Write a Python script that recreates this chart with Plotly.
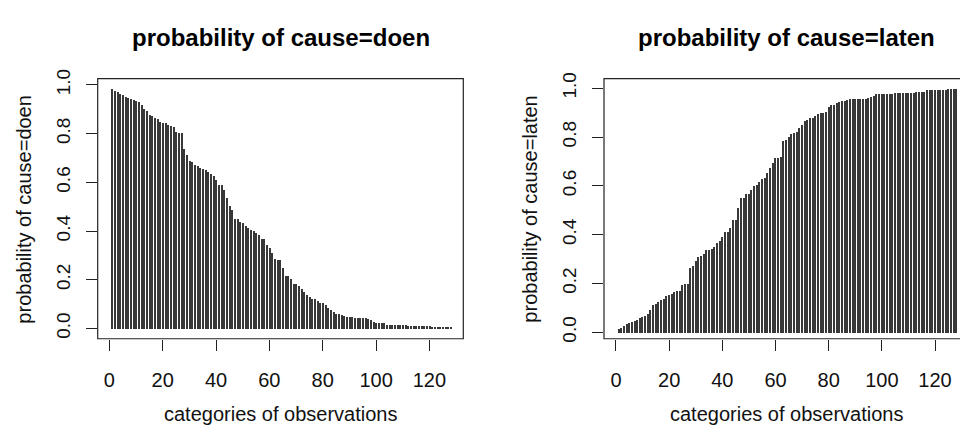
import plotly.graph_objects as go

categories = list(range(1, 129))

p_doen = [
    0.985, 0.979, 0.972, 0.966, 0.959, 0.952, 0.948, 0.944, 0.942, 0.937,
    0.931, 0.919, 0.905, 0.893, 0.880, 0.873, 0.866, 0.862, 0.851, 0.847,
    0.844, 0.839, 0.833, 0.828, 0.807, 0.804, 0.804, 0.738, 0.714, 0.690,
    0.684, 0.675, 0.668, 0.661, 0.655, 0.652, 0.646, 0.638, 0.628, 0.611,
    0.591, 0.589, 0.571, 0.538, 0.505, 0.489, 0.450, 0.450, 0.437, 0.434,
    0.423, 0.413, 0.406, 0.401, 0.393, 0.384, 0.370, 0.370, 0.344, 0.331,
    0.311, 0.289, 0.284, 0.282, 0.251, 0.218, 0.216, 0.205, 0.185, 0.183,
    0.175, 0.165, 0.152, 0.139, 0.132, 0.122, 0.122, 0.116, 0.108, 0.106,
    0.099, 0.086, 0.077, 0.069, 0.062, 0.060, 0.056, 0.053, 0.049, 0.049,
    0.048, 0.046, 0.046, 0.045, 0.045, 0.045, 0.042, 0.037, 0.030, 0.024,
    0.024, 0.024, 0.023, 0.017, 0.017, 0.017, 0.016, 0.016, 0.016, 0.016,
    0.015, 0.013, 0.010, 0.010, 0.010, 0.010, 0.010, 0.010, 0.010, 0.010,
    0.007, 0.007, 0.006, 0.006, 0.005, 0.005, 0.004, 0.004,
]

p_laten = [
    0.016, 0.020, 0.026, 0.037, 0.040, 0.045, 0.049, 0.053, 0.060, 0.064,
    0.069, 0.077, 0.093, 0.113, 0.119, 0.128, 0.135, 0.139, 0.152, 0.156,
    0.159, 0.166, 0.172, 0.172, 0.196, 0.199, 0.201, 0.265, 0.272, 0.294,
    0.311, 0.315, 0.322, 0.338, 0.340, 0.344, 0.351, 0.368, 0.377, 0.391,
    0.411, 0.413, 0.430, 0.464, 0.464, 0.513, 0.554, 0.554, 0.570, 0.570,
    0.583, 0.603, 0.607, 0.616, 0.629, 0.636, 0.656, 0.675, 0.695, 0.715,
    0.718, 0.719, 0.784, 0.788, 0.801, 0.815, 0.819, 0.824, 0.837, 0.850,
    0.868, 0.872, 0.881, 0.881, 0.887, 0.898, 0.901, 0.901, 0.903, 0.927,
    0.932, 0.935, 0.943, 0.946, 0.948, 0.951, 0.954, 0.956, 0.959, 0.959,
    0.959, 0.959, 0.959, 0.959, 0.960, 0.964, 0.972, 0.977, 0.980, 0.980,
    0.980, 0.980, 0.980, 0.980, 0.984, 0.984, 0.984, 0.984, 0.984, 0.984,
    0.984, 0.984, 0.988, 0.988, 0.988, 0.988, 0.993, 0.993, 0.993, 0.993,
    0.993, 0.993, 0.993, 0.993, 0.997, 0.997, 0.997, 0.997,
]

x_ticks = [0, 20, 40, 60, 80, 100, 120]
y_ticks = [0.0, 0.2, 0.4, 0.6, 0.8, 1.0]
y_tick_text = ["0.0", "0.2", "0.4", "0.6", "0.8", "1.0"]

titles = ["probability of cause=doen", "probability of cause=laten"]
x_title = "categories of observations"

W, H = 960, 432
FONT = "Liberation Sans, Arial, sans-serif"

# panel boxes in pixels
L1, R1 = 97.7, 463.3
L2, R2 = 604.0, 969.6
TOP, BOT = 71.7, 340.0


def px(v):
    return v / W


def py(v):
    return 1 - v / H


fig = go.Figure()
fig.add_trace(go.Bar(x=categories, y=p_doen, width=0.45,
                     marker=dict(color="#383838", line=dict(width=0)),
                     xaxis="x", yaxis="y", showlegend=False))
fig.add_trace(go.Bar(x=categories, y=p_laten, width=0.45,
                     marker=dict(color="#383838", line=dict(width=0)),
                     xaxis="x2", yaxis="y2", showlegend=False))

xcommon = dict(tickmode="array", tickvals=x_ticks, ticks="outside", ticklen=11,
               tickwidth=1, tickcolor="#222", showgrid=False, zeroline=False,
               showline=False, tickfont=dict(family=FONT, size=20, color="#111"),
               ticklabelstandoff=12, fixedrange=True)
ycommon = dict(tickmode="array", tickvals=y_ticks, ticktext=y_tick_text,
               ticks="outside", ticklen=11, tickwidth=1, tickcolor="#222",
               showgrid=False, zeroline=False, showline=False, tickangle=-90,
               tickfont=dict(family=FONT, size=19, color="#111"),
               ticklabelstandoff=8, fixedrange=True)

fig.update_layout(
    width=W, height=H,
    margin=dict(l=0, r=0, t=0, b=0),
    paper_bgcolor="white", plot_bgcolor="white",
    bargap=0,
    xaxis=dict(domain=[px(L1), px(R1)], range=[-4.35, 132.7], anchor="y", **xcommon),
    yaxis=dict(domain=[py(BOT), py(TOP)], range=[-0.0426, 1.0263], anchor="x", **ycommon),
    xaxis2=dict(domain=[px(L2), 1.0], range=[-4.51, 129.4], anchor="y2", **xcommon),
    yaxis2=dict(domain=[py(BOT), py(TOP)], range=[-0.0266, 1.0397], anchor="x2", **ycommon),
    showlegend=False,
)

# panel frames
for (l, r) in [(L1, R1), (L2, R2)]:
    fig.add_shape(type="rect", xref="paper", yref="paper",
                  x0=px(l), x1=px(r), y0=py(BOT), y1=py(TOP),
                  line=dict(color="#222", width=1.2), fillcolor="rgba(0,0,0,0)",
                  layer="above")

# titles and axis titles
for (l, r), t, ytx in [((L1, R1), titles[0], 24), ((L2, R2), titles[1], 530)]:
    cx = (l + r) / 2
    fig.add_annotation(x=px(cx), y=py(29), xref="paper", yref="paper",
                       text="<b>" + t + "</b>", showarrow=False,
                       xanchor="center", yanchor="middle",
                       font=dict(family=FONT, size=24, color="#000"))
    fig.add_annotation(x=px(cx), y=py(418), xref="paper", yref="paper",
                       text=x_title, showarrow=False,
                       xanchor="center", yanchor="middle",
                       font=dict(family=FONT, size=20, color="#111"))
    fig.add_annotation(x=px(ytx), y=py((TOP + BOT) / 2 + 1), xref="paper", yref="paper",
                       text=t, showarrow=False, textangle=-90,
                       xanchor="center", yanchor="middle",
                       font=dict(family=FONT, size=20, color="#111"))

fig.write_html(
    "out.html",
    config={"displayModeBar": False},
    post_script="document.body.style.margin='0';document.body.style.overflow='hidden';",
)
